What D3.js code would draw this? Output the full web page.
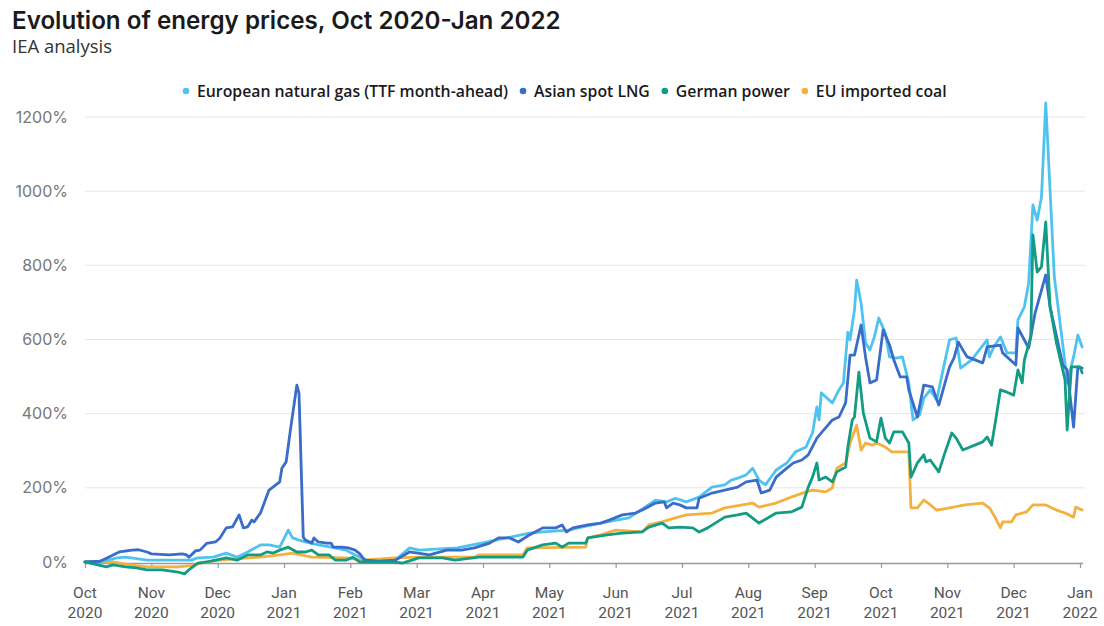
<!DOCTYPE html>
<html>
<head>
<meta charset="utf-8">
<script src="https://cdn.jsdelivr.net/npm/d3@7"></script>
<style>
  html, body { margin: 0; padding: 0; background: #fff; }
  svg { display: block; }
</style>
</head>
<body>
<svg id="chart" width="1104" height="626"></svg>
<script>
// ---------------- DATA ----------------
const monthTicks = ["2020-10-01","2020-11-01","2020-12-01","2021-01-01","2021-02-01","2021-03-01","2021-04-01","2021-05-01","2021-06-01","2021-07-01","2021-08-01","2021-09-01","2021-10-01","2021-11-01","2021-12-01","2022-01-01"];
const yTicks = [0, 200, 400, 600, 800, 1000, 1200];

const seriesNames = ["European natural gas (TTF month-ahead)", "Asian spot LNG", "German power", "EU imported coal"];
const seriesColors = ["#4fc3f0", "#3a6cc9", "#139c84", "#f4b13f"];

const gasTTF = [
["2020-10-01",0],["2020-10-08",0],["2020-10-16",11],["2020-10-20",13],["2020-10-30",5],["2020-11-13",5],["2020-11-19",5],["2020-11-22",11],["2020-11-29",13],["2020-12-05",24],["2020-12-10",13],["2020-12-15",27],["2020-12-21",46],["2020-12-25",46],["2020-12-30",40],["2021-01-03",86],["2021-01-05",65],["2021-01-08",59],["2021-01-11",54],["2021-01-17",46],["2021-01-23",40],["2021-01-30",32],["2021-02-03",19],["2021-02-08",5],["2021-02-13",0],["2021-02-20",5],["2021-02-26",38],["2021-03-02",32],["2021-03-20",38],["2021-04-03",54],["2021-04-22",78],["2021-04-28",81],["2021-05-10",86],["2021-05-16",94],["2021-05-28",108],["2021-06-07",119],["2021-06-19",167],["2021-06-24",162],["2021-06-28",172],["2021-07-03",162],["2021-07-09",175],["2021-07-15",202],["2021-07-21",208],["2021-07-24",221],["2021-07-27",226],["2021-07-31",235],["2021-08-03",253],["2021-08-06",221],["2021-08-09",208],["2021-08-14",248],["2021-08-19",267],["2021-08-23",297],["2021-08-28",310],["2021-08-29",324],["2021-08-31",348],["2021-09-02",418],["2021-09-03",383],["2021-09-04",456],["2021-09-06",445],["2021-09-09",429],["2021-09-12",464],["2021-09-14",483],["2021-09-16",620],["2021-09-17",599],["2021-09-19",680],["2021-09-20",760],["2021-09-22",698],["2021-09-24",591],["2021-09-26",572],["2021-09-28",607],["2021-09-30",658],["2021-10-03",618],["2021-10-05",553],["2021-10-08",550],["2021-10-11",553],["2021-10-14",483],["2021-10-16",383],["2021-10-19",396],["2021-10-21",442],["2021-10-24",464],["2021-10-27",437],["2021-10-30",518],["2021-11-02",599],["2021-11-05",604],["2021-11-07",523],["2021-11-12",545],["2021-11-19",599],["2021-11-20",553],["2021-11-22",580],["2021-11-25",607],["2021-11-28",564],["2021-12-02",564],["2021-12-03",653],["2021-12-06",688],["2021-12-08",752],["2021-12-10",963],["2021-12-12",922],["2021-12-14",984],["2021-12-16",1238],["2021-12-18",1003],["2021-12-20",769],["2021-12-25",537],["2021-12-26",483],["2021-12-29",553],["2021-12-31",612],["2022-01-02",580]
];

const asianLNG = [
["2020-10-01",0],["2020-10-08",2],["2020-10-12",13],["2020-10-16",24],["2020-10-17",27],["2020-10-23",32],["2020-10-26",33],["2020-10-30",27],["2020-11-01",22],["2020-11-09",19],["2020-11-15",22],["2020-11-17",19],["2020-11-18",13],["2020-11-21",30],["2020-11-23",32],["2020-11-26",50],["2020-11-30",54],["2020-12-02",64],["2020-12-05",92],["2020-12-08",95],["2020-12-11",127],["2020-12-13",92],["2020-12-15",95],["2020-12-17",113],["2020-12-18",108],["2020-12-21",132],["2020-12-25",194],["2020-12-30",216],["2020-12-31",253],["2021-01-02",270],["2021-01-04",356],["2021-01-07",477],["2021-01-08",456],["2021-01-10",67],["2021-01-11",59],["2021-01-14",51],["2021-01-15",65],["2021-01-17",54],["2021-01-21",51],["2021-01-23",51],["2021-01-24",40],["2021-01-28",40],["2021-01-31",38],["2021-02-03",32],["2021-02-05",22],["2021-02-07",5],["2021-02-13",2],["2021-02-20",5],["2021-02-26",27],["2021-03-07",19],["2021-03-15",32],["2021-03-22",32],["2021-03-28",38],["2021-04-04",51],["2021-04-08",65],["2021-04-13",65],["2021-04-17",54],["2021-04-22",73],["2021-04-28",92],["2021-05-04",92],["2021-05-07",100],["2021-05-09",81],["2021-05-12",92],["2021-05-19",100],["2021-05-25",105],["2021-05-29",113],["2021-06-04",127],["2021-06-10",132],["2021-06-13",140],["2021-06-19",159],["2021-06-23",162],["2021-06-24",146],["2021-06-27",159],["2021-06-30",154],["2021-07-03",146],["2021-07-08",146],["2021-07-09",172],["2021-07-15",186],["2021-07-21",194],["2021-07-27",202],["2021-07-31",216],["2021-08-05",221],["2021-08-07",186],["2021-08-11",194],["2021-08-14",229],["2021-08-19",253],["2021-08-22",267],["2021-08-26",275],["2021-08-29",289],["2021-09-02",334],["2021-09-04",348],["2021-09-07",369],["2021-09-09",383],["2021-09-12",391],["2021-09-15",429],["2021-09-17",558],["2021-09-19",558],["2021-09-22",639],["2021-09-24",553],["2021-09-26",483],["2021-09-29",491],["2021-10-02",626],["2021-10-05",585],["2021-10-07",545],["2021-10-10",499],["2021-10-13",499],["2021-10-14",464],["2021-10-18",391],["2021-10-21",477],["2021-10-25",472],["2021-10-28",423],["2021-10-30",464],["2021-11-02",526],["2021-11-04",550],["2021-11-06",593],["2021-11-08",572],["2021-11-10",553],["2021-11-17",537],["2021-11-19",580],["2021-11-25",585],["2021-11-26",564],["2021-12-02",531],["2021-12-03",631],["2021-12-08",577],["2021-12-11",671],["2021-12-16",774],["2021-12-18",688],["2021-12-24",531],["2021-12-26",518],["2021-12-29",364],["2021-12-31",526],["2022-01-02",523]
];

const germanPower = [
["2020-10-01",0],["2020-10-07",-8],["2020-10-11",-13],["2020-10-14",-8],["2020-10-20",-13],["2020-10-25",-16],["2020-10-30",-21],["2020-11-06",-21],["2020-11-13",-27],["2020-11-16",-32],["2020-11-18",-21],["2020-11-22",-3],["2020-11-26",0],["2020-11-30",5],["2020-12-05",11],["2020-12-10",5],["2020-12-15",19],["2020-12-21",19],["2020-12-24",27],["2020-12-27",24],["2020-12-30",32],["2021-01-03",40],["2021-01-07",27],["2021-01-11",27],["2021-01-14",32],["2021-01-17",19],["2021-01-22",19],["2021-01-25",5],["2021-01-30",5],["2021-02-02",13],["2021-02-05",0],["2021-02-13",0],["2021-02-19",0],["2021-02-23",-3],["2021-02-27",5],["2021-03-02",11],["2021-03-13",11],["2021-03-19",5],["2021-03-30",13],["2021-04-19",13],["2021-04-21",32],["2021-04-28",46],["2021-05-04",51],["2021-05-07",40],["2021-05-10",51],["2021-05-18",51],["2021-05-19",65],["2021-05-28",73],["2021-06-04",78],["2021-06-13",81],["2021-06-16",94],["2021-06-22",105],["2021-06-25",92],["2021-06-30",94],["2021-07-06",92],["2021-07-09",81],["2021-07-13",92],["2021-07-21",121],["2021-07-27",127],["2021-07-31",132],["2021-08-06",105],["2021-08-14",132],["2021-08-21",135],["2021-08-26",148],["2021-08-29",202],["2021-08-31",229],["2021-09-02",267],["2021-09-03",221],["2021-09-06",229],["2021-09-09",216],["2021-09-11",243],["2021-09-15",256],["2021-09-16",310],["2021-09-18",383],["2021-09-19",391],["2021-09-21",512],["2021-09-23",402],["2021-09-26",334],["2021-09-29",324],["2021-10-01",388],["2021-10-03",334],["2021-10-05",321],["2021-10-07",351],["2021-10-11",351],["2021-10-14",321],["2021-10-15",229],["2021-10-18",267],["2021-10-21",289],["2021-10-22",270],["2021-10-24",275],["2021-10-28",243],["2021-10-31",297],["2021-11-03",348],["2021-11-05",334],["2021-11-08",302],["2021-11-17",324],["2021-11-19",337],["2021-11-21",315],["2021-11-23",388],["2021-11-25",464],["2021-11-28",458],["2021-12-01",450],["2021-12-03",518],["2021-12-05",483],["2021-12-06",545],["2021-12-09",607],["2021-12-10",882],["2021-12-12",782],["2021-12-14",796],["2021-12-16",917],["2021-12-18",688],["2021-12-21",591],["2021-12-25",491],["2021-12-26",356],["2021-12-28",526],["2022-01-01",526],["2022-01-02",510]
];

const euCoal = [
["2020-10-01",0],["2020-10-14",0],["2020-10-22",-8],["2020-10-30",-13],["2020-11-13",-13],["2020-11-19",-10],["2020-11-26",0],["2020-12-02",5],["2020-12-15",11],["2020-12-21",13],["2020-12-30",19],["2021-01-05",24],["2021-01-14",13],["2021-01-30",11],["2021-02-06",5],["2021-02-20",11],["2021-03-02",13],["2021-03-28",13],["2021-03-30",19],["2021-04-19",19],["2021-04-21",38],["2021-05-18",40],["2021-05-19",65],["2021-05-25",73],["2021-06-01",86],["2021-06-13",81],["2021-06-16",100],["2021-06-22",108],["2021-06-28",119],["2021-07-03",127],["2021-07-15",132],["2021-07-21",146],["2021-08-03",159],["2021-08-06",148],["2021-08-14",159],["2021-08-21",175],["2021-08-28",189],["2021-08-31",194],["2021-09-06",189],["2021-09-09",200],["2021-09-11",253],["2021-09-15",267],["2021-09-17",321],["2021-09-20",369],["2021-09-22",302],["2021-09-24",321],["2021-09-27",315],["2021-09-29",321],["2021-10-03",310],["2021-10-06",297],["2021-10-14",297],["2021-10-15",146],["2021-10-18",146],["2021-10-21",167],["2021-10-23",159],["2021-10-27",140],["2021-11-02",146],["2021-11-09",154],["2021-11-17",159],["2021-11-20",146],["2021-11-22",127],["2021-11-25",92],["2021-11-26",108],["2021-11-30",108],["2021-12-02",127],["2021-12-07",135],["2021-12-10",154],["2021-12-16",154],["2021-12-21",140],["2021-12-25",132],["2021-12-29",121],["2021-12-30",148],["2022-01-02",140]
];

// ---------------- CHART ----------------
const parse = d3.timeParse("%Y-%m-%d");
const svg = d3.select("#chart");
const plotL = 85, plotR = 1080, plotT = 117, plotB = 562;
const monthDates = monthTicks.map(parse);
const x = d3.scaleTime()
  .domain(monthDates)
  .range(monthDates.map((d, i) => plotL + i * (plotR - plotL) / (monthDates.length - 1)));
const y = d3.scaleLinear().domain([0, 1200]).range([plotB, plotT]);

const FONT = "Inter, 'Open Sans', sans-serif";

// Title
svg.append("text").attr("x", 12).attr("y", 29)
  .attr("font-family", FONT).attr("font-size", 24.2).attr("font-weight", 600)
  .attr("fill", "#1a1a1a").text("Evolution of energy prices, Oct 2020-Jan 2022");
svg.append("text").attr("x", 12).attr("y", 53)
  .attr("font-family", "'Open Sans', sans-serif").attr("font-size", 18.5).attr("font-weight", 400)
  .attr("fill", "#333").text("IEA analysis");

// Gridlines + y labels
const yAxis = d3.axisLeft(y).tickValues(yTicks).tickSize(0).tickFormat(d => d + "%");
const gy = svg.append("g").attr("transform", `translate(${plotL - 14},0)`).call(yAxis);
gy.select(".domain").remove();
gy.selectAll("text").attr("font-family", FONT).attr("font-size", 16).attr("fill", "#777");

svg.append("g").selectAll("line").data(yTicks.filter(d => d > 0)).join("line")
  .attr("x1", plotL).attr("x2", plotR + 5)
  .attr("y1", d => y(d)).attr("y2", d => y(d))
  .attr("stroke", "#e6e6e6").attr("stroke-width", 1);

// X axis
const xAxis = d3.axisBottom(x).tickValues(monthDates).tickSize(5).tickSizeOuter(0).tickFormat("");
const gx = svg.append("g").attr("transform", `translate(0,${plotB + 1})`).call(xAxis);
gx.select(".domain").attr("stroke", "#999").attr("stroke-width", 1.5).attr("d", `M${plotL},0.5H${plotR + 3}`);
gx.selectAll(".tick line").attr("stroke", "#999").attr("stroke-width", 1.2);
const fmtM = d3.timeFormat("%b"), fmtY = d3.timeFormat("%Y");
const xl = svg.append("g");
xl.selectAll("text.m").data(monthDates).join("text").attr("class", "m")
  .attr("x", d => x(d)).attr("y", 598).attr("text-anchor", "middle")
  .attr("font-family", "Roboto, sans-serif").attr("font-size", 15.5).attr("fill", "#555").text(fmtM);
xl.selectAll("text.yr").data(monthDates).join("text").attr("class", "yr")
  .attr("x", d => x(d)).attr("y", 618).attr("text-anchor", "middle")
  .attr("font-family", "Roboto, sans-serif").attr("font-size", 15.5).attr("fill", "#555").text(fmtY);

// Lines
const line = d3.line().x(d => x(parse(d[0]))).y(d => y(d[1]));
const allSeries = [gasTTF, asianLNG, germanPower, euCoal];
const drawOrder = [3, 0, 1, 2];
svg.append("g").selectAll("path").data(drawOrder).join("path")
  .attr("d", i => line(allSeries[i]))
  .attr("fill", "none").attr("stroke", i => seriesColors[i])
  .attr("stroke-width", 2.8).attr("stroke-linejoin", "round").attr("stroke-linecap", "round");

// Legend
const lg = svg.append("g").attr("transform", "translate(0,91)");
let lx = 186;
seriesNames.forEach((name, i) => {
  lg.append("circle").attr("cx", lx).attr("cy", 0).attr("r", 3.3).attr("fill", seriesColors[i]);
  const t = lg.append("text").attr("x", lx + 11).attr("y", 5.5)
    .attr("font-family", "'Open Sans', sans-serif").attr("font-size", 15.8).attr("font-weight", 600)
    .attr("fill", "#1a1a1a").text(name);
  lx += 11 + t.node().getComputedTextLength() + 15;
});
</script>
</body>
</html>
